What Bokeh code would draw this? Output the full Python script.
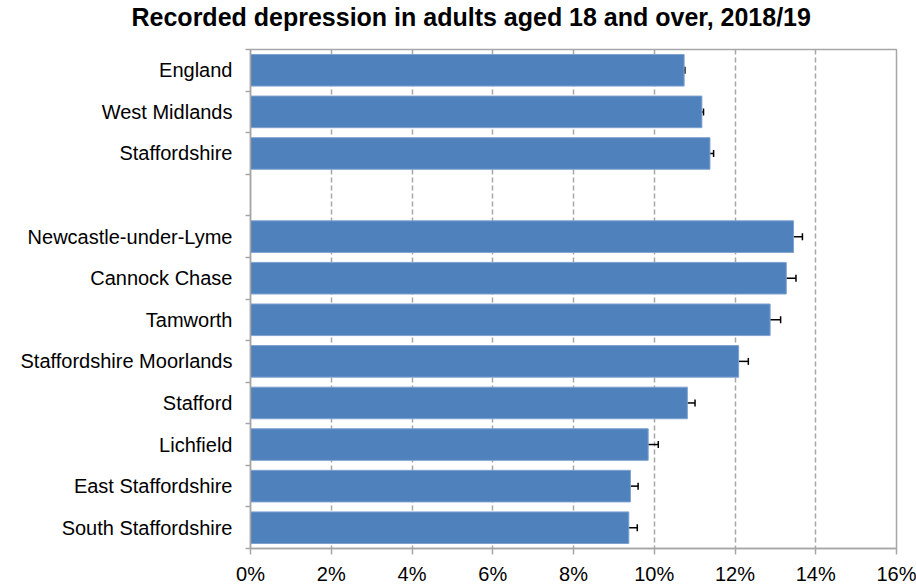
from bokeh.plotting import figure
from bokeh.models import (ColumnDataSource, Range1d, FixedTicker, Whisker, TeeHead, Title)
from bokeh.embed import file_html
from bokeh.resources import INLINE

# ---- data ----
title_text = "Recorded depression in adults aged 18 and over, 2018/19"
areas = ["England", "West Midlands", "Staffordshire", "",
         "Newcastle-under-Lyme", "Cannock Chase", "Tamworth",
         "Staffordshire Moorlands", "Stafford", "Lichfield",
         "East Staffordshire", "South Staffordshire"]
values = [10.74, 11.18, 11.38, None, 13.45, 13.27, 12.87, 12.09, 10.82, 9.85, 9.41, 9.37]
ci_lower = [10.72, 11.14, 11.29, None, 13.24, 13.03, 12.62, 11.85, 10.63, 9.63, 9.24, 9.18]
ci_upper = [10.76, 11.22, 11.47, None, 13.67, 13.51, 13.13, 12.33, 11.01, 10.10, 9.60, 9.58]
x_ticks = [0, 2, 4, 6, 8, 10, 12, 14, 16]

# ---- build source (skip blank slot) ----
pos = [i for i, a in enumerate(areas) if a]
src = ColumnDataSource(dict(
    y=pos,
    name=[areas[i] for i in pos],
    val=[values[i] for i in pos],
    lo=[ci_lower[i] for i in pos],
    hi=[ci_upper[i] for i in pos],
))

n = len(areas)
FONT = "Liberation Sans"
GRAY = "#a6a6a6"

p = figure(width=916, height=587, output_backend="svg", toolbar_location=None,
           x_range=Range1d(x_ticks[0], x_ticks[-1]),
           y_range=Range1d(n - 0.5, -0.5),
           min_border_left=250, min_border_right=20, min_border_top=49,
           min_border_bottom=38)
p.title = None

# blank spacer panel (innermost) to lift the title away from the frame
p.add_layout(Title(text=" ", text_font=FONT, text_font_size="15px", standoff=0), "above")
p.add_layout(Title(text=title_text, align="left", offset=-119,
                   text_font=FONT, text_font_size="25px", text_font_style="bold",
                   text_color="#000000", standoff=0), "above")

p.outline_line_color = GRAY
p.outline_line_width = 1.5
p.background_fill_color = "white"
p.border_fill_color = "white"

p.hbar(y="y", left=0, right="val", height=0.76, source=src,
       fill_color="#4F81BD", line_color="#7EA2D0", line_width=1)

wh = Whisker(base="y", lower="lo", upper="hi", dimension="width", source=src,
             line_color="#000000", line_width=1.5,
             upper_head=TeeHead(size=7, line_color="#000000", line_width=1.5),
             lower_head=TeeHead(size=7, line_color="#000000", line_width=1.5))
p.add_layout(wh)

# x axis
p.xaxis.ticker = FixedTicker(ticks=x_ticks)
p.xaxis.major_label_overrides = {t: f"{t}%" for t in x_ticks}
p.xaxis.axis_line_color = GRAY
p.xaxis.axis_line_width = 1.5
p.xaxis.major_tick_line_color = GRAY
p.xaxis.major_tick_line_width = 1.5
p.xaxis.major_tick_out = 6
p.xaxis.major_tick_in = 0
p.xaxis.minor_tick_line_color = None
p.xaxis.major_label_standoff = 8
p.xaxis.major_label_text_font = FONT
p.xaxis.major_label_text_font_size = "20px"
p.xaxis.major_label_text_color = "#000000"

# y axis: labels at centres, small ticks at category boundaries
p.yaxis.ticker = FixedTicker(ticks=pos, minor_ticks=[i - 0.5 for i in range(n + 1)])
p.yaxis.major_label_overrides = {i: areas[i] for i in pos}
p.yaxis.axis_line_color = GRAY
p.yaxis.axis_line_width = 1.5
p.yaxis.major_tick_line_color = None
p.yaxis.major_tick_out = 0
p.yaxis.major_tick_in = 0
p.yaxis.minor_tick_line_color = GRAY
p.yaxis.minor_tick_line_width = 1.5
p.yaxis.minor_tick_out = 5
p.yaxis.minor_tick_in = 0
p.yaxis.major_label_standoff = 13
p.yaxis.major_label_text_font = FONT
p.yaxis.major_label_text_font_size = "20px"
p.yaxis.major_label_text_color = "#000000"

# grid
p.xgrid.ticker = FixedTicker(ticks=x_ticks[1:-1])
p.xgrid.grid_line_color = GRAY
p.xgrid.grid_line_width = 1.5
p.xgrid.grid_line_dash = "5 3"
p.ygrid.grid_line_color = None

open("out.html", "w").write(file_html(p, INLINE))
